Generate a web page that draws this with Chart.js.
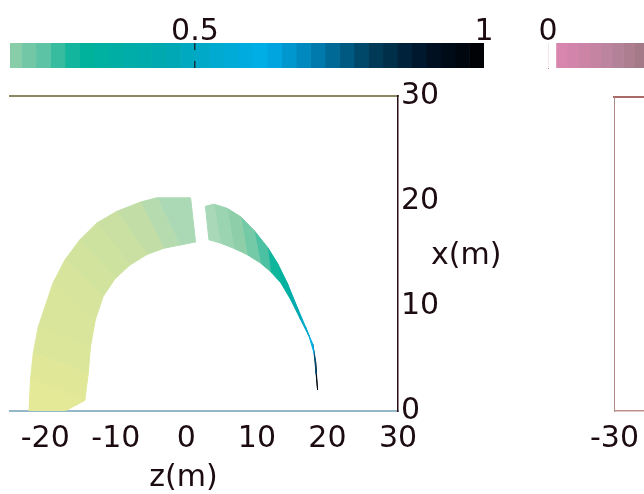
<!DOCTYPE html>
<html>
<head>
<meta charset="utf-8">
<script src="https://cdn.jsdelivr.net/npm/chart.js@4.4.1/dist/chart.umd.min.js"></script>
<style>
  html, body { margin: 0; padding: 0; background: #fff; }
  body { width: 644px; height: 494px; overflow: hidden; position: relative; }
  canvas { position: absolute; }
</style>
</head>
<body>
<canvas id="barraFracao" width="520" height="80" style="left:0;top:0"></canvas>
<canvas id="barraRosa" width="120" height="80" style="left:538px;top:0"></canvas>
<canvas id="painelArco" width="520" height="424" style="left:0;top:70px"></canvas>
<canvas id="painelDireito" width="440" height="424" style="left:580px;top:70px"></canvas>
<script>
// eixos
const zTicks = [-20, -10, 0, 10, 20, 30];
const xTicks = [0, 10, 20, 30];
const barraTicks = [0.5, 1];
const rosaTicks = [0];
const painelDireitoTicks = [-30, -20, -10, 0, 10, 20, 30];

// ramo esquerdo do arco (borda externa / interna, em metros)
const esqExternoZ = [-22.3, -22.1, -21.7, -21.0, -18.9, -17.2, -15.1, -12.7, -9.9, -6.5, -4.2, 0.6];
const esqExternoX = [0, 3.0, 5.5, 8.0, 12.2, 14.4, 16.3, 17.9, 19.0, 19.9, 20.3, 20.3];
const esqInternoZ = [-17.2, -14.4, -13.9, -13.6, -12.9, -11.8, -10.1, -8.0, -5.6, -3.2, -0.9, 1.3];
const esqInternoX = [0, 1.0, 3.6, 6.1, 8.7, 10.9, 12.6, 13.9, 14.9, 15.5, 15.8, 16.1];
const esqValores = [0.01, 0.02, 0.03, 0.04, 0.05, 0.06, 0.07, 0.08, 0.10, 0.12, 0.135];

// ramo direito do arco
const dirExternoZ = [2.7, 3.9, 5.8, 7.7, 9.6, 11.5, 12.9, 14.3, 15.7, 16.9, 17.9, 18.3, 18.6];
const dirExternoX = [19.5, 19.7, 19.3, 18.5, 17.2, 15.6, 14.1, 12.2, 9.9, 8.0, 6.4, 4.9, 2.0];
const dirInternoZ = [3.2, 4.8, 6.7, 8.6, 10.5, 11.9, 13.4, 14.8, 16.2, 17.4, 18.1, 18.4, 18.6];
const dirInternoX = [16.3, 16.0, 15.5, 14.9, 14.1, 13.3, 12.2, 10.6, 8.7, 7.1, 5.5, 3.5, 2.0];
const dirValores = [0.14, 0.16, 0.18, 0.21, 0.25, 0.29, 0.33, 0.42, 0.52, 0.62, 0.78, 0.95];

// escala de cores
const mapaPosicoes = [0, 0.05, 0.10, 0.14, 0.18, 0.24, 0.30, 0.45, 0.55, 0.62, 0.70, 0.80, 0.90, 1.0];
const mapaCores = ['#e6ea96', '#d6e49c', '#c2dea6', '#a8d8b8', '#8ecfa9', '#5ac2a4', '#00b39a',
  '#00a8b2', '#00aad4', '#00aee8', '#0082b8', '#00405e', '#001226', '#000000'];
const bandasBarra = 40;

// barra rosa (segundo painel)
const rosaBordas = [0, 0.014, 0.034, 0.054, 0.074, 0.094, 0.114, 0.134, 0.154, 0.174];
const rosaCores = ['#ffffff', '#d886ae', '#d284aa', '#cc84a6', '#c484a2', '#bc849e', '#b48298', '#ac7e90', '#a47a88'];

const corTexto = '#1c0c12';
const fonteTexto = '"DejaVu Sans", Verdana, sans-serif';
const tamanhoFonte = 30;
Chart.defaults.font.family = fonteTexto;
Chart.defaults.color = corTexto;

function hexParaRgb(h) {
  return [1, 3, 5].map(i => parseInt(h.slice(i, i + 2), 16));
}

function cor(v) {
  v = Math.max(0, Math.min(1, v));
  let i = 0;
  while (i < mapaPosicoes.length - 2 && v > mapaPosicoes[i + 1]) i++;
  const t = (v - mapaPosicoes[i]) / (mapaPosicoes[i + 1] - mapaPosicoes[i]);
  const a = hexParaRgb(mapaCores[i]);
  const b = hexParaRgb(mapaCores[i + 1]);
  const c = a.map((x, k) => Math.round(x + (b[k] - x) * t));
  return `rgb(${c[0]},${c[1]},${c[2]})`;
}

function fixarTicks(lista) {
  return s => { s.ticks = lista.map(v => ({ value: v })); };
}

const semGrade = { color: 'transparent', drawTicks: false };
const semLegenda = { legend: { display: false }, tooltip: { enabled: false } };
const rotulo = v => String(v);

// celulas do arco: quadrilateros entre borda externa e interna
const celulas = [];
function montarCelulas(oz, ox, iz, ix, valores) {
  valores.forEach((v, i) => {
    celulas.push({
      pontos: [
        { x: oz[i], y: ox[i] }, { x: oz[i + 1], y: ox[i + 1] },
        { x: iz[i + 1], y: ix[i + 1] }, { x: iz[i], y: ix[i] },
        { x: oz[i], y: ox[i] }
      ],
      valor: v
    });
  });
}
montarCelulas(esqExternoZ, esqExternoX, esqInternoZ, esqInternoX, esqValores);
montarCelulas(dirExternoZ, dirExternoX, dirInternoZ, dirInternoX, dirValores);

const titulosEixos = {
  id: 'titulosEixos',
  afterDraw(chart) {
    const { ctx, scales: { x, y }, chartArea } = chart;
    ctx.save();
    ctx.font = `${tamanhoFonte}px ${fonteTexto}`;
    ctx.fillStyle = corTexto;
    ctx.textAlign = 'left';
    ctx.textBaseline = 'middle';
    ctx.fillText('x(m)', chartArea.right + 33, y.getPixelForValue(14.7));
    ctx.textAlign = 'center';
    ctx.textBaseline = 'alphabetic';
    ctx.fillText('z(m)', x.getPixelForValue(-0.4), chartArea.bottom + 75);
    ctx.restore();
  }
};

new Chart(document.getElementById('painelArco'), {
  type: 'line',
  data: {
    datasets: celulas.map(c => ({
      data: c.pontos,
      backgroundColor: cor(c.valor),
      borderColor: cor(c.valor),
      borderWidth: 1,
      pointRadius: 0,
      tension: 0,
      fill: 'shape'
    }))
  },
  options: {
    responsive: false,
    animation: false,
    plugins: semLegenda,
    layout: { padding: { left: 10, top: 26, right: 0, bottom: 0 } },
    scales: {
      x: {
        type: 'linear', position: 'bottom', min: -25, max: 30,
        afterBuildTicks: fixarTicks(zTicks),
        afterFit: s => { s.height = 83; },
        grid: semGrade,
        border: { color: '#94b8c8', width: 2 },
        ticks: { font: { size: tamanhoFonte }, padding: 10, maxRotation: 0, autoSkip: false }
      },
      xTopo: {
        type: 'linear', position: 'top', min: -25, max: 30,
        afterFit: s => { s.height = 0; },
        grid: semGrade,
        border: { color: '#8a8860', width: 2 },
        ticks: { display: false }
      },
      y: {
        type: 'linear', position: 'right', min: 0, max: 30,
        afterBuildTicks: fixarTicks(xTicks),
        afterFit: s => { s.width = 122; },
        grid: semGrade,
        border: { color: '#2a0c16', width: 1.5 },
        ticks: { font: { size: tamanhoFonte }, padding: 3 }
      }
    }
  },
  plugins: [titulosEixos]
});

// barra de cores principal
const passo = 1 / bandasBarra;
const bandas = Array.from({ length: bandasBarra }, (_, i) => i * passo);

new Chart(document.getElementById('barraFracao'), {
  type: 'bar',
  data: {
    labels: [''],
    datasets: bandas.map(b => ({
      data: [passo],
      backgroundColor: cor(b + passo / 2),
      borderWidth: 0,
      barPercentage: 1,
      categoryPercentage: 1
    }))
  },
  options: {
    indexAxis: 'y',
    responsive: false,
    animation: false,
    plugins: semLegenda,
    layout: { padding: { left: 10, right: 36, top: 0, bottom: 12 } },
    scales: {
      x: {
        type: 'linear', position: 'top', stacked: true, min: 0.18, max: 1,
        afterBuildTicks: fixarTicks(barraTicks),
        afterFit: s => { s.height = 43; },
        grid: {
          color: c => (c.tick && c.tick.value === 0.5 ? '#14303a' : 'transparent'),
          lineWidth: 1.5, drawTicks: false, z: 1
        },
        border: { display: false, dash: [7, 11] },
        ticks: { font: { size: tamanhoFonte }, padding: -7, maxRotation: 0, callback: rotulo }
      },
      y: { stacked: true, display: false }
    }
  }
});

// barra rosa, cortada pela borda
new Chart(document.getElementById('barraRosa'), {
  type: 'bar',
  data: {
    labels: [''],
    datasets: rosaCores.map((c, i) => ({
      data: [rosaBordas[i + 1] - rosaBordas[i]],
      backgroundColor: c,
      borderWidth: 0,
      barPercentage: 1,
      categoryPercentage: 1
    }))
  },
  options: {
    indexAxis: 'y',
    responsive: false,
    animation: false,
    plugins: semLegenda,
    layout: { padding: { left: 10, right: 12, top: 0, bottom: 12 } },
    scales: {
      x: {
        type: 'linear', position: 'top', stacked: true, min: 0, max: rosaBordas[rosaBordas.length - 1],
        afterBuildTicks: fixarTicks(rosaTicks),
        afterFit: s => { s.height = 43; },
        grid: semGrade,
        border: { display: false },
        ticks: { font: { size: tamanhoFonte }, padding: -7, maxRotation: 0, callback: rotulo }
      },
      y: {
        stacked: true, position: 'left',
        afterFit: s => { s.width = 0; },
        grid: semGrade,
        border: { color: '#b0807a', width: 1 },
        ticks: { display: false }
      }
    }
  }
});

// painel da direita (vazio na parte visivel)
new Chart(document.getElementById('painelDireito'), {
  type: 'line',
  data: { datasets: [] },
  options: {
    responsive: false,
    animation: false,
    plugins: semLegenda,
    layout: { padding: { left: 33, top: 27, right: 0, bottom: 0 } },
    scales: {
      x: {
        type: 'linear', position: 'bottom', min: -30, max: 30,
        afterBuildTicks: fixarTicks(painelDireitoTicks),
        afterFit: s => { s.height = 83; },
        grid: semGrade,
        border: { color: '#c09090', width: 1.5 },
        ticks: { font: { size: tamanhoFonte }, padding: 10, maxRotation: 0, autoSkip: false }
      },
      xTopo: {
        type: 'linear', position: 'top', min: -30, max: 30,
        afterFit: s => { s.height = 0; },
        grid: semGrade,
        border: { color: '#a86a66', width: 2 },
        ticks: { display: false }
      },
      y: {
        type: 'linear', position: 'left', min: 0, max: 30,
        afterFit: s => { s.width = 0; },
        grid: semGrade,
        border: { color: '#b08a88', width: 1 },
        ticks: { display: false }
      }
    }
  }
});
</script>
</body>
</html>
